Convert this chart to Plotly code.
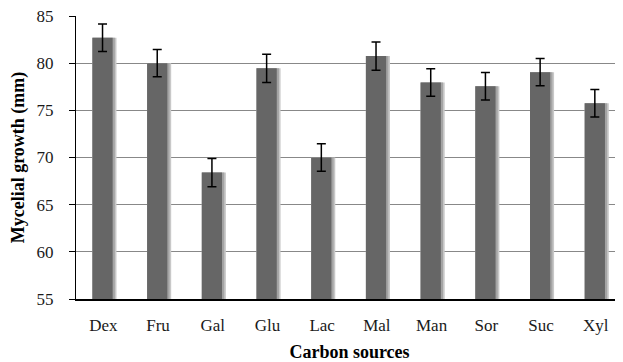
import plotly.graph_objects as go

categories = ["Dex", "Fru", "Gal", "Glu", "Lac", "Mal", "Man", "Sor", "Suc", "Xyl"]
growth = [82.7, 80.0, 68.4, 79.45, 70.0, 80.75, 77.95, 77.55, 79.05, 75.75]
errors = [1.45, 1.45, 1.5, 1.5, 1.45, 1.5, 1.45, 1.45, 1.45, 1.45]
y_ticks = [55, 60, 65, 70, 75, 80, 85]

FONT = "Liberation Serif"

fig = go.Figure()
# soft shadow behind each bar
fig.add_trace(go.Bar(
    x=categories, y=growth,
    marker=dict(color="#c8c8c8", line=dict(width=0)),
    width=0.44, offset=-0.2, hoverinfo="skip", showlegend=False,
))
fig.add_trace(go.Bar(
    x=categories, y=growth,
    marker=dict(color="#a4a4a4", line=dict(width=0)),
    width=0.41, offset=-0.2, hoverinfo="skip", showlegend=False,
))
fig.add_trace(go.Bar(
    x=categories, y=growth,
    marker=dict(color="#666666", line=dict(width=0)),
    width=0.37, offset=-0.2, showlegend=False,
    error_y=dict(type="data", array=errors, color="#000000", thickness=1.5, width=4.5),
))

# the page body has an 8px margin, so the figure is sized to fit the 623x362 window
fig.update_layout(
    width=615, height=354,
    margin=dict(l=68, r=0, t=8, b=63),
    paper_bgcolor="white", plot_bgcolor="white",
    barmode="overlay",
    font=dict(family=FONT, size=17, color="#1a1a1a"),
    showlegend=False,
)
fig.update_yaxes(
    range=[55, 85], tickvals=y_ticks,
    showgrid=True, gridcolor="#888888", gridwidth=1,
    showline=True, linecolor="#000000", linewidth=1,
    ticks="outside", ticklen=6, tickcolor="#000000",
    ticklabelstandoff=12, ticklabeloverflow="allow",
    zeroline=False,
    title=dict(text="<b>Mycelial growth (mm)</b>", font=dict(family=FONT, size=18, color="#000000"), standoff=12),
)
fig.update_xaxes(
    showgrid=False,
    showline=True, linecolor="#000000", linewidth=1.5,
    ticks="", ticklen=0, ticklabelstandoff=10,
    title=dict(text="<b>Carbon sources</b>", font=dict(family=FONT, size=18, color="#000000"), standoff=14),
)

fig.write_html("out.html")
